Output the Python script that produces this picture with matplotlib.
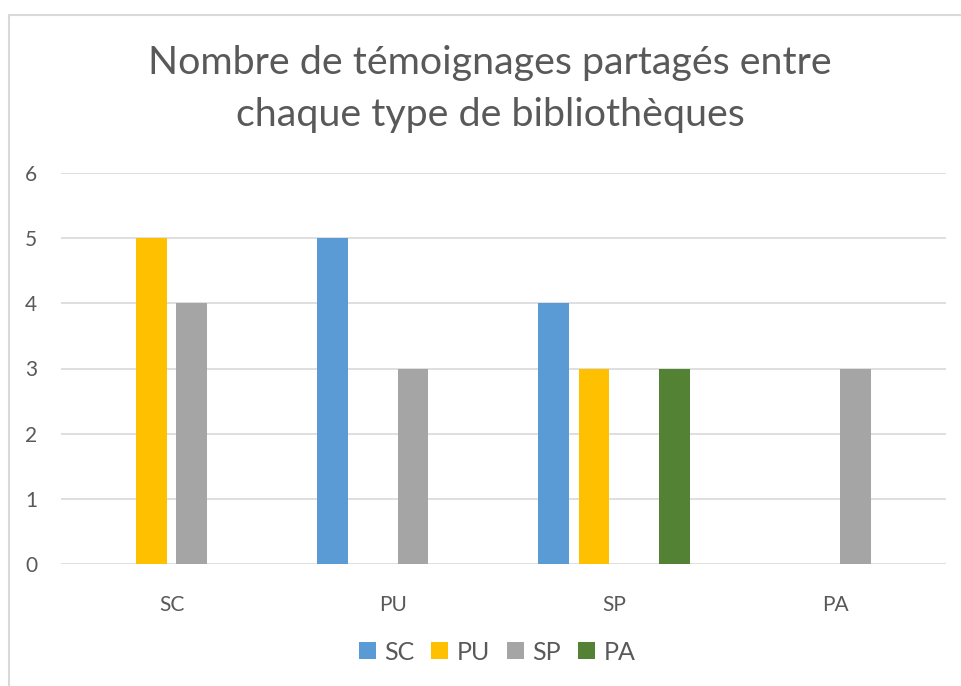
import numpy as np
import matplotlib.pyplot as plt
from matplotlib.patches import Rectangle

# categories and series
categories = ["SC", "PU", "SP", "PA"]
series_names = ["SC", "PU", "SP", "PA"]
sc_values = [0, 5, 4, 0]
pu_values = [5, 0, 3, 0]
sp_values = [4, 3, 0, 3]
pa_values = [0, 0, 3, 0]

colors = ["#5B9BD5", "#FFC000", "#A5A5A5", "#548235"]
text_color = "#595959"
grid_color = "#D9D9D9"

plt.rcParams['font.family'] = ['Lato', 'DejaVu Sans']

fig = plt.figure(figsize=(9.61, 6.86), dpi=100)
ax = fig.add_axes([61/961, 1 - 564/686, (946-61)/961, (564-173)/686])

x = np.arange(len(categories))
step = 0.182
width = 0.14
all_values = [sc_values, pu_values, sp_values, pa_values]
for i, vals in enumerate(all_values):
    ax.bar(x + (i - 1.5) * step, vals, width, color=colors[i],
           label=series_names[i], zorder=3)

ax.set_xlim(-0.5, 3.5)
ax.set_ylim(0, 6)
ax.set_yticks(range(0, 7))
ax.set_xticks(x)
ax.set_xticklabels(categories)
ax.grid(axis="y", color=grid_color, lw=1.2, zorder=0)
for s in ax.spines.values():
    s.set_visible(False)
ax.tick_params(axis="both", length=0, colors=text_color, labelsize=15)
ax.tick_params(axis="y", pad=17)
ax.tick_params(axis="x", pad=22)

fig.text(490/961, 1 - 63/686, "Nombre de témoignages partagés entre", ha="center",
         va="center", fontsize=28.4, color=text_color)
fig.text(490/961, 1 - 115/686, "chaque type de bibliothèques", ha="center",
         va="center", fontsize=28.4, color=text_color)

leg = ax.legend(loc="center", bbox_to_anchor=(497/961, 1 - 652/686),
                bbox_transform=fig.transFigure, ncol=4, frameon=False,
                fontsize=18, handlelength=0.68, handleheight=0.68,
                handletextpad=0.32, columnspacing=0.7)
for t in leg.get_texts():
    t.set_color(text_color)

# chart border
fig.patches.append(Rectangle((8.5/961, -0.1), 1.2, 1.1 - 15/686,
                             transform=fig.transFigure, fill=False,
                             edgecolor=grid_color, lw=1.5))

fig.savefig("out.png", dpi=100)
